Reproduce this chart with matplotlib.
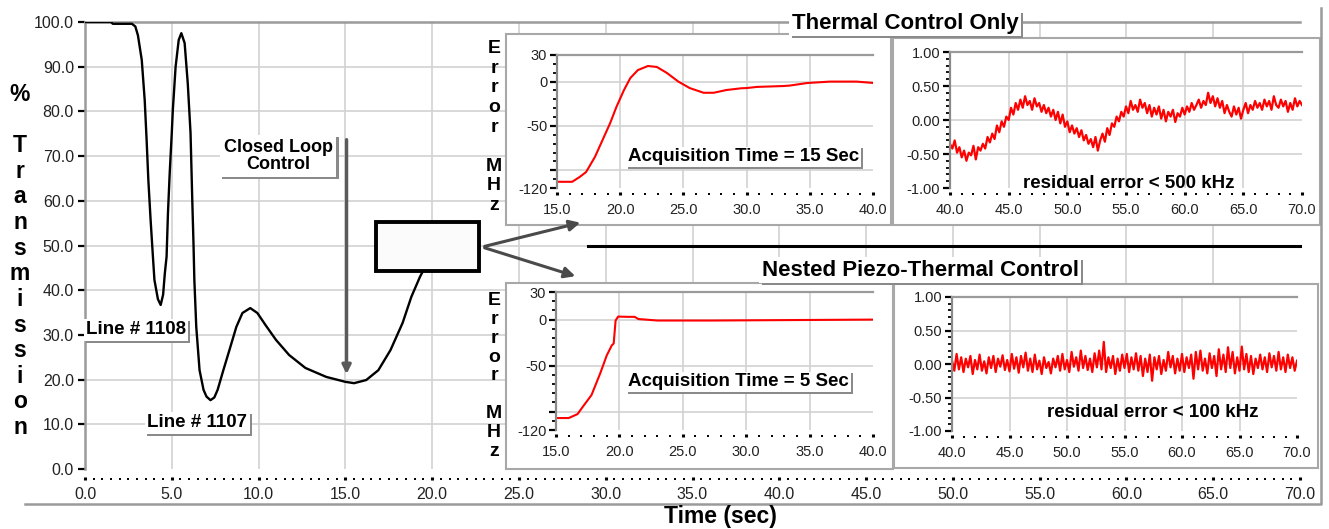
import numpy as np
import matplotlib.pyplot as plt
import matplotlib.patheffects as pe
from matplotlib.patches import Rectangle, FancyArrowPatch
from matplotlib.lines import Line2D
from matplotlib.ticker import FixedLocator, MultipleLocator, FormatStrFormatter

plt.rcParams['font.family'] = ['Liberation Sans', 'DejaVu Sans']

# ----------------------------
# Data
# ----------------------------
main_time = [0.0, 1.5, 1.6, 2.7, 2.9, 3.05, 3.27, 3.44, 3.55, 3.65,
             3.78, 3.9, 4.0, 4.2, 4.36, 4.5, 4.6, 4.7, 4.78, 4.88,
             5.0, 5.06, 5.22, 5.4, 5.55, 5.74, 5.92, 6.08, 6.18, 6.25,
             6.3, 6.41, 6.6, 6.83, 7.0, 7.23, 7.45, 7.64, 7.97, 8.32,
             8.72, 9.07, 9.52, 9.93, 10.4, 11.0, 11.76, 12.7, 13.9, 15.0,
             15.5, 16.2, 16.9, 17.6, 18.3, 18.8, 19.3, 19.5]
main_trans = [100.0, 100.0, 99.6, 99.6, 99.0, 97.0, 91.5, 82.5, 73.6, 64.6,
              55.7, 48.3, 42.3, 38.0, 36.7, 39.0, 43.8, 47.5, 57.3, 66.2,
              75.2, 80.3, 90.0, 96.0, 97.5, 95.3, 86.3, 75.2, 60.2, 50.5,
              42.3, 31.8, 22.1, 17.7, 16.2, 15.4, 16.0, 17.7, 22.1, 26.6,
              31.8, 34.9, 36.0, 34.9, 32.2, 28.9, 25.5, 22.6, 20.6, 19.5,
              19.2, 19.9, 22.1, 26.6, 32.7, 38.5, 43.0, 44.5]

thermal_time = [15.0, 16.2, 16.8, 17.3, 18.0, 18.6, 19.2, 19.7, 20.3, 20.8,
                21.4, 22.2, 22.9, 23.7, 24.6, 25.5, 26.6, 27.4, 28.4, 29.6,
                30.0, 30.8, 32.9, 33.4, 34.8, 36.6, 38.7, 40.0]
thermal_err = [-113, -113, -107.5, -102, -85, -66, -47, -28.6, -9.5, 4,
               13, 17.6, 16.5, 9.7, 0, -7.3, -12.6, -12.6, -9.5, -7.5,
               -7.3, -6, -5, -4.5, -1.6, 0, 0, -1.5]

nested_time = [15.0, 16.0, 16.7, 17.1, 17.8, 18.5, 19.0, 19.4, 19.55, 19.7,
               19.9, 20.6, 21.2, 21.5, 23.0, 27.4, 40.0]
nested_err = [-107, -107, -102.7, -95, -82, -58, -39, -28, -26, -1,
              3.3, 3, 3, 0.6, -1, -1, 0]

thermal_resid = [
    -0.35, -0.42, -0.30, -0.48, -0.40,
    -0.55, -0.45, -0.60, -0.48, -0.52,
    -0.38, -0.58, -0.40, -0.45, -0.35,
    -0.42, -0.25, -0.33, -0.20, -0.28,
    -0.08, -0.18, -0.02, -0.10, 0.05,
    0.00, 0.18, 0.08, 0.25, 0.15,
    0.30, 0.18, 0.35, 0.22, 0.28,
    0.15, 0.32, 0.20, 0.25, 0.12,
    0.22, 0.10, 0.18, 0.05, 0.15,
    0.00, 0.12, -0.05, 0.08, -0.10,
    -0.02, -0.18, -0.08, -0.20, -0.12,
    -0.25, -0.15, -0.30, -0.22, -0.35,
    -0.28, -0.40, -0.25, -0.45, -0.30,
    -0.20, -0.32, -0.12, -0.22, -0.05,
    -0.10, 0.05, -0.02, 0.12, 0.05,
    0.20, 0.10, 0.28, 0.15, 0.22,
    0.12, 0.30, 0.18, 0.25, 0.10,
    0.22, 0.05, 0.18, 0.08, 0.20,
    0.02, 0.15, -0.02, 0.12, 0.05,
    0.15, -0.03, 0.10, 0.05, 0.18,
    0.08, 0.20, 0.12, 0.25, 0.15,
    0.22, 0.30, 0.18, 0.28, 0.22,
    0.40, 0.25, 0.35, 0.20, 0.32,
    0.18, 0.28, 0.10, 0.22, 0.12,
    0.05, 0.20, 0.08, 0.18, 0.02,
    0.15, 0.25, 0.10, 0.22, 0.15,
    0.28, 0.18, 0.25, 0.15, 0.30,
    0.20, 0.28, 0.15, 0.35, 0.22,
    0.18, 0.30, 0.20, 0.28, 0.12,
    0.25, 0.15, 0.32, 0.20, 0.28,
    0.22]

nested_resid = [
    0.05, -0.10, 0.15, -0.08, 0.10,
    -0.12, 0.08, -0.05, 0.12, -0.15,
    0.06, -0.08, 0.14, -0.10, 0.04,
    -0.14, 0.10, -0.06, 0.12, -0.12,
    0.08, -0.04, 0.13, -0.09, 0.06,
    -0.11, 0.15, -0.07, 0.10, -0.13,
    0.12, -0.05, 0.17, -0.10, 0.08,
    -0.12, 0.14, -0.08, 0.05, -0.15,
    0.10, -0.06, 0.03, -0.14, 0.08,
    -0.05, 0.12, -0.10, 0.15, -0.08,
    0.06, -0.12, 0.18, -0.04, 0.10,
    -0.10, 0.20, -0.06, 0.12, -0.09,
    0.08, -0.12, 0.16, -0.05, 0.20,
    -0.08, 0.33, -0.12, 0.10, -0.06,
    0.12, -0.15, 0.08, -0.10, 0.14,
    -0.06, 0.15, -0.12, 0.10, -0.08,
    0.16, -0.10, 0.12, -0.18, 0.08,
    -0.12, 0.14, -0.25, 0.10, -0.08,
    0.12, -0.15, 0.06, -0.10, 0.18,
    -0.05, 0.12, -0.14, 0.08, -0.10,
    0.15, -0.12, 0.10, -0.06, 0.14,
    -0.22, 0.18, -0.08, 0.20, -0.10,
    0.08, -0.14, 0.16, -0.06, 0.12,
    -0.18, 0.22, -0.08, 0.14, -0.12,
    0.25, -0.06, 0.18, -0.14, 0.10,
    -0.10, 0.26, -0.08, 0.15, -0.12,
    0.12, -0.15, 0.08, -0.06, 0.14,
    -0.08, 0.10, -0.12, 0.16, -0.05,
    0.12, -0.10, 0.18, -0.08, 0.10,
    -0.12, 0.14, -0.06, 0.10, -0.10,
    0.05]

# residual traces are sampled evenly from 40 s to 70 s
resid_time = np.linspace(40.0, 70.0, len(thermal_resid))

main_xticks = [0, 5, 10, 15, 20, 25, 30, 35, 40, 45, 50, 55, 60, 65, 70]
main_yticks = [0, 10, 20, 30, 40, 50, 60, 70, 80, 90, 100]
err_xticks = [15, 20, 25, 30, 35, 40]
err_yticks = [-120, -100, -50, 0, 30]
err_ylabels = ['-120', '', '-50', '0', '30']
res_xticks = [40, 45, 50, 55, 60, 65, 70]
res_yticks = [-1.0, -0.5, 0.0, 0.5, 1.0]

# ----------------------------
# Layout helpers (pixel -> figure fraction)
# ----------------------------
W, H = 1329, 529
GRID = '#d2d2d2'
SPINE = '#9a9a9a'
RED = '#ff0000'


def frac(px, py):
    return px / W, 1 - py / H


def rect(l, t, r, b):
    return [l / W, 1 - b / H, (r - l) / W, (b - t) / H]


def shadow(t, off=1.6):
    t.get_bbox_patch().set_path_effects([
        pe.withSimplePatchShadow(offset=(off, -off), shadow_rgbFace='#8a8a8a', alpha=1.0),
        pe.Normal()])


fig = plt.figure(figsize=(W / 100, H / 100), dpi=100)

# ----------------------------
# Main transmission plot
# ----------------------------
ax = fig.add_axes(rect(85, 22, 1300, 469))
ax.set_xlim(0, 70)
ax.set_ylim(0, 100)
for v in main_xticks[1:-1]:
    ax.axvline(v, color=GRID, lw=1.2, zorder=0)
for v in main_yticks[1:-1]:
    ax.axhline(v, color=GRID, lw=1.2, zorder=0)

ax.plot(main_time, main_trans, color='black', lw=1.7, zorder=3)

ax.spines['right'].set_visible(False)
ax.spines['top'].set_color(SPINE)
ax.spines['top'].set_linewidth(1.8)
ax.spines['left'].set_color(SPINE)
ax.spines['left'].set_linewidth(1.8)
ax.spines['bottom'].set_position(('outward', 8))
ax.spines['bottom'].set_color('none')

ax.xaxis.set_major_locator(FixedLocator(main_xticks))
ax.xaxis.set_minor_locator(MultipleLocator(0.5))
ax.xaxis.set_major_formatter(FormatStrFormatter('%.1f'))
ax.yaxis.set_major_locator(FixedLocator(main_yticks))
ax.yaxis.set_major_formatter(FormatStrFormatter('%.1f'))
ax.tick_params(axis='x', which='major', direction='in', length=2.2, width=2.2,
               color='black', labelsize=11.5, labelcolor='#222222', pad=5)
ax.tick_params(axis='x', which='minor', direction='in', length=1.3, width=1.4, color='black')
ax.tick_params(axis='y', which='major', direction='out', length=5, width=1.6,
               color='black', labelsize=11.5, labelcolor='#222222', pad=3)

t = ax.text(11.13, 70.0, 'Closed Loop\nControl', ha='center', va='center',
            fontsize=13, fontweight='bold', linespacing=1.05, zorder=5,
            bbox=dict(boxstyle='square,pad=0.2', fc='white', ec='none'))
shadow(t)
t = ax.text(0.05, 31.1, 'Line # 1108', ha='left', va='center', fontsize=13.5,
            fontweight='bold', zorder=5, clip_on=False,
            bbox=dict(boxstyle='square,pad=0.12', fc='white', ec='none'))
shadow(t)
t = ax.text(3.6, 10.3, 'Line # 1107', ha='left', va='center', fontsize=13.5,
            fontweight='bold', zorder=5,
            bbox=dict(boxstyle='square,pad=0.12', fc='white', ec='none'))
shadow(t)

ax.add_patch(FancyArrowPatch((15.07, 74.3), (15.07, 20.6), arrowstyle='-|>',
                             mutation_scale=13, color='#5a5a5a', lw=2.4, zorder=4))
ax.add_patch(Rectangle((16.75, 44.3), 5.95, 11.0, fc='#fbfbfb', ec='black', lw=2.8, zorder=4))

# ----------------------------
# Panels behind the insets
# ----------------------------
for l, tp, r, b in [(506, 34, 891, 225), (893, 38, 1320, 225),
                    (506, 283, 893, 469), (894, 284, 1318, 468)]:
    p = Rectangle((l / W, 1 - b / H), (r - l) / W, (b - tp) / H, transform=fig.transFigure,
                  fc='white', ec='#a8a8a8', lw=1.5, zorder=1)
    fig.add_artist(p)

fig.add_artist(Line2D([588 / W, 1300 / W], [1 - 246 / H] * 2, color='black', lw=2.2, zorder=2))
# outer frame
fig.add_artist(Line2D([25 / W, 1321 / W, 1321 / W], [1 - 504 / H, 1 - 504 / H, 1 - 8 / H],
                      color='#9a9a9a', lw=1.8, zorder=2))


def style_inset(a, xt, yt, ylab, xlim, ylim, yminor, yfmt=None):
    a.set_zorder(3)
    a.set_facecolor('white')
    a.set_xlim(*xlim)
    a.set_ylim(*ylim)
    for v in xt[1:-1]:
        a.axvline(v, color=GRID, lw=1.2, zorder=0)
    for v in yt[1:-1]:
        a.axhline(v, color=GRID, lw=1.2, zorder=0)
    a.spines['right'].set_visible(False)
    a.spines['top'].set_color(SPINE)
    a.spines['top'].set_linewidth(1.6)
    a.spines['left'].set_color('#8a8a8a')
    a.spines['left'].set_linewidth(1.6)
    a.spines['bottom'].set_position(('outward', 5))
    a.spines['bottom'].set_color('none')
    a.xaxis.set_major_locator(FixedLocator(xt))
    a.xaxis.set_minor_locator(MultipleLocator(1))
    a.xaxis.set_major_formatter(FormatStrFormatter('%.1f'))
    a.yaxis.set_major_locator(FixedLocator(yt))
    a.yaxis.set_minor_locator(MultipleLocator(yminor))
    if ylab is not None:
        a.set_yticklabels(ylab)
    else:
        a.yaxis.set_major_formatter(FormatStrFormatter(yfmt))
    a.tick_params(axis='x', which='major', direction='in', length=2.2, width=2.2,
                  color='black', labelsize=10.5, labelcolor='#222222', pad=6)
    a.tick_params(axis='x', which='minor', direction='in', length=1.3, width=1.4, color='black')
    a.tick_params(axis='y', which='major', direction='out', length=5, width=1.6,
                  color='black', labelsize=10.5, labelcolor='#222222', pad=2)
    a.tick_params(axis='y', which='minor', direction='out', length=3.2, width=1.3, color='black')


# Thermal only: error
a1 = fig.add_axes(rect(557, 55, 873, 188))
style_inset(a1, err_xticks, err_yticks, err_ylabels, (15, 40), (-120, 30), 10)
a1.plot(thermal_time, thermal_err, color=RED, lw=1.5)
t = a1.text(20.6, -85, 'Acquisition Time = 15 Sec', ha='left', va='center',
            fontsize=13.5, fontweight='bold', zorder=5,
            bbox=dict(boxstyle='square,pad=0.1', fc='white', ec='none'))
shadow(t, 1.3)

# Thermal only: residual
a2 = fig.add_axes(rect(950, 52, 1302, 188))
style_inset(a2, res_xticks, res_yticks, None, (40, 70), (-1, 1), 0.1, '%.2f')
a2.plot(resid_time, thermal_resid, color=RED, lw=1.6)
a2.text(46.2, -0.93, 'residual error < 500 kHz', ha='left', va='center',
        fontsize=13.5, fontweight='bold', zorder=5)

# Nested: error
a3 = fig.add_axes(rect(556, 292, 873, 430))
style_inset(a3, err_xticks, err_yticks, err_ylabels, (15, 40), (-120, 30), 10)
a3.plot(nested_time, nested_err, color=RED, lw=1.5)
t = a3.text(20.7, -67.8, 'Acquisition Time = 5 Sec', ha='left', va='center',
            fontsize=13.5, fontweight='bold', zorder=5,
            bbox=dict(boxstyle='square,pad=0.1', fc='white', ec='none'))
shadow(t, 1.3)

# Nested: residual
a4 = fig.add_axes(rect(952, 297, 1297, 431))
style_inset(a4, res_xticks, res_yticks, None, (40, 70), (-1, 1), 0.1, '%.2f')
a4.plot(resid_time, nested_resid, color=RED, lw=1.6)
a4.text(48.3, -0.72, 'residual error < 100 kHz', ha='left', va='center',
        fontsize=13.5, fontweight='bold', zorder=5)

# ----------------------------
# Figure texts, titles, arrows
# ----------------------------
fig.text(*frac(20, 261), '%\n\nT\nr\na\nn\ns\nm\ni\ns\ns\ni\no\nn', ha='center', va='center',
         fontsize=16.5, fontweight='bold', linespacing=1.145)
fig.text(*frac(494, 127), 'E\nr\nr\no\nr\n\nM\nH\nz', ha='center', va='center',
         fontsize=14, fontweight='bold', linespacing=1.2, zorder=6)
fig.text(*frac(494, 376), 'E\nr\nr\no\nr\n\nM\nH\nz', ha='center', va='center',
         fontsize=14, fontweight='bold', linespacing=1.15, zorder=6)
fig.text(*frac(720, 517), 'Time (sec)', ha='center', va='center',
         fontsize=16.5, fontweight='bold')

for txt, px, py in [('Thermal Control Only', 905, 23), ('Nested Piezo-Thermal Control', 920, 270)]:
    t = fig.text(*frac(px, py), txt, ha='center', va='center', fontsize=16,
                 fontweight='bold', zorder=6,
                 bbox=dict(boxstyle='square,pad=0.1', fc='white', ec='none'))
    shadow(t)

for tip in [(583, 222), (578, 277)]:
    fig.add_artist(FancyArrowPatch(frac(482, 247), frac(*tip), transform=fig.transFigure,
                                   arrowstyle='-|>', mutation_scale=16, color='#4a4a4a',
                                   lw=2.2, zorder=7))

fig.savefig('out.png', dpi=100)
